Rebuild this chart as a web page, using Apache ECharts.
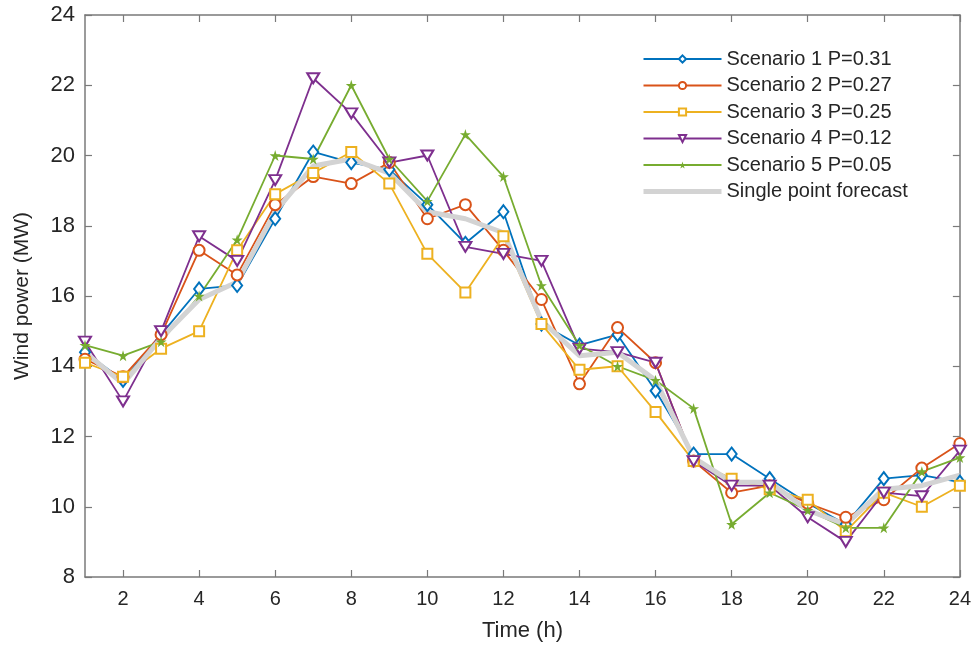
<!DOCTYPE html>
<html>
<head>
<meta charset="utf-8">
<title>Wind power scenarios</title>
<script src="https://cdn.jsdelivr.net/npm/echarts@6/dist/echarts.min.js"></script>
<style>
  html, body { margin: 0; padding: 0; background: #fff; }
  #chart { width: 974px; height: 648px; }
</style>
</head>
<body>
<div id="chart"></div>
<script>
// Hours of the day
const hours = ['1','2','3','4','5','6','7','8','9','10','11','12','13','14','15','16','17','18','19','20','21','22','23','24'];

// Wind power scenarios (MW)
const scenario1 = [14.4, 13.6, 14.9, 16.2, 16.3, 18.2, 20.1, 19.8, 19.6, 18.6, 17.5, 18.4, 15.2, 14.6, 14.9, 13.3, 11.5, 11.5, 10.8, 10.1, 9.5, 10.8, 10.9, 10.7];
const scenario2 = [14.2, 13.7, 14.9, 17.3, 16.6, 18.6, 19.4, 19.2, 19.8, 18.2, 18.6, 17.3, 15.9, 13.5, 15.1, 14.1, 11.3, 10.4, 10.6, 10.1, 9.7, 10.2, 11.1, 11.8];
const scenario3 = [14.1, 13.7, 14.5, 15.0, 17.3, 18.9, 19.5, 20.1, 19.2, 17.2, 16.1, 17.7, 15.2, 13.9, 14.0, 12.7, 11.3, 10.8, 10.5, 10.2, 9.3, 10.4, 10.0, 10.6];
const scenario4 = [14.7, 13.0, 15.0, 17.7, 17.0, 19.3, 22.2, 21.2, 19.8, 20.0, 17.4, 17.2, 17.0, 14.5, 14.4, 14.1, 11.3, 10.6, 10.6, 9.7, 9.0, 10.4, 10.3, 11.6];
const scenario5 = [14.6, 14.3, 14.7, 16.0, 17.6, 20.0, 19.9, 22.0, 19.9, 18.7, 20.6, 19.4, 16.3, 14.6, 14.0, 13.6, 12.8, 9.5, 10.4, 9.9, 9.4, 9.4, 11.0, 11.4];
const forecast  = [14.4, 13.5, 14.8, 15.9, 16.4, 18.4, 19.7, 19.9, 19.5, 18.4, 18.2, 17.8, 15.3, 14.3, 14.4, 13.6, 11.4, 10.7, 10.7, 9.9, 9.5, 10.5, 10.6, 10.9];

// Series names
const names = ['Scenario 1 P=0.31', 'Scenario 2 P=0.27', 'Scenario 3 P=0.25', 'Scenario 4 P=0.12', 'Scenario 5 P=0.05', 'Single point forecast'];

const FONT = '"Liberation Sans", Arial, Helvetica, sans-serif';
const AXIS_GRAY = '#7a7a7a';
const TEXT = '#262626';
const STAR = 'path://M50,0 L61,35 L98,35 L68,57 L79,91 L50,70 L21,91 L32,57 L2,35 L39,35 Z';

// Only even hours get a label and a tick
const evenHour = (idx) => idx % 2 === 1;

function scenarioSeries(name, data, color, symbol, size, extra) {
  return Object.assign({
    name: name,
    type: 'line',
    data: data,
    symbol: symbol,
    symbolSize: size,
    showAllSymbol: true,
    lineStyle: { color: color, width: 1.8 },
    itemStyle: { color: color, borderWidth: 1.5 },
    emphasis: { disabled: true },
    animation: false
  }, extra || {});
}

const chart = echarts.init(document.getElementById('chart'), null, { renderer: 'canvas' });

const boxAxisLine = { show: true, lineStyle: { color: AXIS_GRAY, width: 1.5 } };
const boxTick = { show: true, inside: true, length: 7, lineStyle: { color: AXIS_GRAY, width: 1.2 } };

chart.setOption({
  backgroundColor: '#fff',
  animation: false,
  textStyle: { fontFamily: FONT },
  grid: { left: 85, right: 9, top: 15, bottom: 71 },
  legend: {
    orient: 'vertical',
    left: 636,
    top: 44,
    itemWidth: 78,
    itemHeight: 9,
    itemGap: 6.5,
    textStyle: { fontFamily: FONT, fontSize: 20, color: TEXT, lineHeight: 20 },
    data: names.slice(0, 5).concat([{
      name: names[5],
      itemStyle: { opacity: 0 },
      lineStyle: { color: '#d3d3d3', width: 5 }
    }])
  },
  xAxis: [
    {
      type: 'category',
      data: hours,
      boundaryGap: false,
      name: 'Time (h)',
      nameLocation: 'middle',
      nameGap: 43,
      nameTextStyle: { fontFamily: FONT, fontSize: 22, color: TEXT },
      axisLine: boxAxisLine,
      axisTick: Object.assign({ interval: evenHour }, boxTick),
      axisLabel: { interval: evenHour, margin: 12, fontFamily: FONT, fontSize: 20, color: TEXT },
      splitLine: { show: false }
    },
    {
      type: 'category',
      data: hours,
      boundaryGap: false,
      position: 'top',
      axisLine: boxAxisLine,
      axisTick: Object.assign({ interval: evenHour }, boxTick),
      axisLabel: { show: false },
      splitLine: { show: false }
    }
  ],
  yAxis: [
    {
      type: 'value',
      min: 8,
      max: 24,
      interval: 2,
      name: 'Wind power (MW)',
      nameLocation: 'middle',
      nameGap: 52,
      nameTextStyle: { fontFamily: FONT, fontSize: 21, color: TEXT },
      axisLine: boxAxisLine,
      axisTick: boxTick,
      axisLabel: { margin: 10, fontFamily: FONT, fontSize: 22, color: TEXT },
      splitLine: { show: false }
    },
    {
      type: 'value',
      min: 8,
      max: 24,
      interval: 2,
      position: 'right',
      axisLine: boxAxisLine,
      axisTick: boxTick,
      axisLabel: { show: false },
      splitLine: { show: false }
    }
  ],
  series: [
    scenarioSeries(names[0], scenario1, '#0072BD', 'emptyDiamond', [10, 13]),
    scenarioSeries(names[1], scenario2, '#D95319', 'emptyCircle', 11),
    scenarioSeries(names[2], scenario3, '#EDB120', 'emptyRect', 10),
    scenarioSeries(names[3], scenario4, '#7E2F8E', 'emptyTriangle', [12, 10], { symbolRotate: 180 }),
    scenarioSeries(names[4], scenario5, '#77AC30', STAR, 11),
    {
      name: names[5],
      type: 'line',
      data: forecast,
      symbol: 'none',
      lineStyle: { color: '#d3d3d3', width: 5 },
      itemStyle: { color: '#d3d3d3' },
      emphasis: { disabled: true },
      animation: false
    }
  ]
});
</script>
</body>
</html>
